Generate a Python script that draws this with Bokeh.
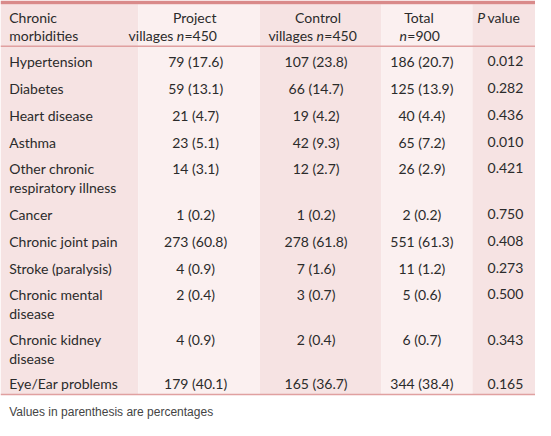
from bokeh.plotting import figure
from bokeh.models import Range1d
from bokeh.core.properties import value
from bokeh.embed import file_html
from bokeh.resources import INLINE

# ---------------- data ----------------
morbidities = ["Hypertension", "Diabetes", "Heart disease", "Asthma",
               "Other chronic\nrespiratory illness", "Cancer", "Chronic joint pain",
               "Stroke (paralysis)", "Chronic mental\ndisease", "Chronic kidney\ndisease",
               "Eye/Ear problems"]
project_n = [79, 59, 21, 23, 14, 1, 273, 4, 2, 4, 179]
project_pct = [17.6, 13.1, 4.7, 5.1, 3.1, 0.2, 60.8, 0.9, 0.4, 0.9, 40.1]
control_n = [107, 66, 19, 42, 12, 1, 278, 7, 3, 2, 165]
control_pct = [23.8, 14.7, 4.2, 9.3, 2.7, 0.2, 61.8, 1.6, 0.7, 0.4, 36.7]
total_n = [186, 125, 40, 65, 26, 2, 551, 11, 5, 6, 344]
total_pct = [20.7, 13.9, 4.4, 7.2, 2.9, 0.2, 61.3, 1.2, 0.6, 0.7, 38.4]
p_values = ["0.012", "0.282", "0.436", "0.010", "0.421", "0.750", "0.408",
            "0.273", "0.500", "0.343", "0.165"]
footnote = "Values in parenthesis are percentages"

# ---------------- layout (reference pixel coordinates) ----------------
W, H = 551, 436
FW, FH = 535, 420
col_edges = [0, 142, 267, 392, 486, 551]
col_fill = ["#f6e3e3", "#fbf0f0", "#f6e3e3", "#fbf0f0", "#f6e3e3"]
row_y = [63, 91, 119, 147, 174, 222, 250, 278, 305, 352, 398]
line_gap = 20
centers = [201, 325, 434, 520]
FONT = "Lato"
FS = "14px"
TXT = "#2b2b2b"

p = figure(width=FW, height=FH, x_range=Range1d(0, W), y_range=Range1d(H, 0),
           output_backend="svg", toolbar_location=None, min_border=0)
p.axis.visible = False
p.grid.visible = False
p.outline_line_color = None
p.background_fill_color = "white"
p.border_fill_color = "white"

# column backgrounds
p.quad(left=col_edges[:-1], right=col_edges[1:], top=[4] * 5, bottom=[409] * 5,
       fill_color=col_fill, line_color=None)
# top bar
p.quad(left=[0], right=[W], top=[0], bottom=[4], fill_color="#d98a8a", line_color=None)
# header separator and bottom rule
p.segment(x0=[0, 0], x1=[W, W], y0=[47.5, 409], y1=[47.5, 409],
          line_color="#e0a0a0", line_width=1.3)

def txt(xs, ys, texts, align="left", style="normal", size=FS, font=FONT, color=TXT):
    p.text(x=xs, y=ys, text=texts, text_align=align, text_baseline="middle",
           text_font=value(font), text_font_size=size, text_font_style=style,
           text_color=color)

# header
txt([9, 9], [18, 36], ["Chronic", "morbidities"])
txt([200, 327, 431], [18, 18, 18], ["Project", "Control", "Total"], align="center")
# "villages n=450" pieces
txt([178, 322], [36, 36], ["villages", "villages"], align="right")
txt([181.5, 325.5, 411], [36, 36, 36], ["n", "n", "n"], style="italic")
txt([189.5, 333.5, 419], [36, 36, 36], ["=450", "=450", "=900"])
txt([491], [18], ["P"], style="italic")
txt([501.5], [18], ["value"])

# body
lab_x, lab_y, lab_t = [], [], []
for lab, y in zip(morbidities, row_y):
    for k, part in enumerate(lab.split("\n")):
        lab_x.append(9)
        lab_y.append(y + k * line_gap)
        lab_t.append(part)
txt(lab_x, lab_y, lab_t)

def fmt(n, pc):
    return [f"{a} ({b})" for a, b in zip(n, pc)]

cols = [fmt(project_n, project_pct), fmt(control_n, control_pct),
        fmt(total_n, total_pct), p_values]
for cx, col in zip(centers, cols):
    txt([cx] * len(col), row_y, col, align="center")

# footnote
txt([9], [427], [footnote], font="Liberation Sans", size="12px", color="#444444")

open("out.html", "w").write(file_html(p, INLINE))
